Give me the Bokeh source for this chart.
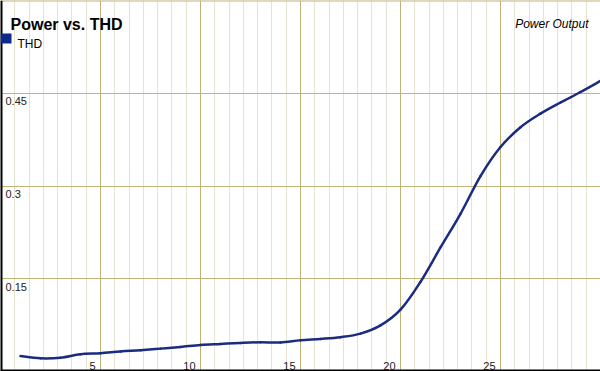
from bokeh.plotting import figure
from bokeh.models import (ColumnDataSource, Range1d, SingleIntervalTicker, FixedTicker,
                          Span, Label, BoxAnnotation)
from bokeh.embed import file_html
from bokeh.resources import INLINE

# ---- data ----
power = list(range(1, 31))
thd = [0.025, 0.0214, 0.0224, 0.0279, 0.0295, 0.0324, 0.0344, 0.037, 0.0397, 0.043,
       0.0446, 0.0462, 0.0473, 0.047, 0.0506, 0.0527, 0.0555, 0.0612, 0.0745, 0.100,
       0.145, 0.2006, 0.255, 0.316, 0.363, 0.395, 0.417, 0.435, 0.452, 0.470]

x_ticks = [5, 10, 15, 20, 25]
x_labels = ["5", "10", "15", "20", "25"]
y_ticks = [0.15, 0.3, 0.45]
y_labels = ["0.15", "0.3", "0.45"]

title = "Power vs. THD"
series_name = "THD"
axis_title = "Power Output"

FONT = "Liberation Sans"
LINE = "#1a2b80"
MAJOR = "#bdb47a"
MINOR = "#e6e3d2"

p = figure(width=600, height=371, output_backend="svg", toolbar_location=None,
           x_range=Range1d(0, 30), y_range=Range1d(0, 0.6), min_border=0,
           outline_line_color=None, background_fill_color="white")
p.xaxis.visible = False
p.yaxis.visible = False

p.xgrid[0].ticker = SingleIntervalTicker(interval=5, num_minor_ticks=7)
p.xgrid[0].grid_line_color = MAJOR
p.xgrid[0].minor_grid_line_color = MINOR
p.ygrid[0].ticker = FixedTicker(ticks=[0.15, 0.3, 0.45, 0.6])
p.ygrid[0].grid_line_color = MAJOR

p.add_layout(Span(location=0.6, dimension="width", line_color=MAJOR, line_width=2))
p.add_layout(Span(location=0, dimension="height", line_color="black", line_width=4))
p.add_layout(Span(location=0, dimension="width", line_color="black", line_width=4))

# smooth curve through the data points (Catmull-Rom as cubic Bezier segments)
n = len(power)
x0, y0, x1, y1, cx0, cy0, cx1, cy1 = [], [], [], [], [], [], [], []
for i in range(n - 1):
    a = max(i - 1, 0)
    d = min(i + 2, n - 1)
    x0.append(power[i]); y0.append(thd[i])
    x1.append(power[i + 1]); y1.append(thd[i + 1])
    cx0.append(power[i] + (power[i + 1] - power[a]) / 6)
    cy0.append(thd[i] + (thd[i + 1] - thd[a]) / 6)
    cx1.append(power[i + 1] - (power[d] - power[i]) / 6)
    cy1.append(thd[i + 1] - (thd[d] - thd[i]) / 6)
bsrc = ColumnDataSource(dict(x0=x0, y0=y0, x1=x1, y1=y1, cx0=cx0, cy0=cy0, cx1=cx1, cy1=cy1))
p.bezier("x0", "y0", "x1", "y1", "cx0", "cy0", "cx1", "cy1", source=bsrc,
         line_color=LINE, line_width=2.5, line_cap="round")

# tick labels inside the plot
xs = ColumnDataSource(dict(x=x_ticks, y=[0] * len(x_ticks), t=x_labels))
p.text("x", "y", text="t", source=xs, x_offset=-5, y_offset=-6,
       text_align="right", text_baseline="alphabetic", text_font_size="11px",
       text_color="#222222", text_font={"value": FONT})
ys = ColumnDataSource(dict(x=[0] * len(y_ticks), y=y_ticks, t=y_labels))
p.text("x", "y", text="t", source=ys, x_offset=5, y_offset=4,
       text_align="left", text_baseline="top", text_font_size="11px",
       text_color="#222222", text_font={"value": FONT})

p.add_layout(Label(x=10, y=347, x_units="screen", y_units="screen", text=title,
                   text_font=FONT, text_font_size="16px", text_font_style="bold",
                   text_baseline="alphabetic", text_color="black"))
p.add_layout(BoxAnnotation(left=0, right=11, top=338, bottom=328, left_units="screen",
                           right_units="screen", top_units="screen", bottom_units="screen",
                           fill_color="#0b2a8a", fill_alpha=1, line_color=None))
p.add_layout(Label(x=17, y=328, x_units="screen", y_units="screen", text=series_name,
                   text_font=FONT, text_font_size="12px", text_baseline="alphabetic",
                   text_color="black"))
p.add_layout(Label(x=588, y=347.5, x_units="screen", y_units="screen", text=axis_title,
                   text_font=FONT, text_font_size="12px", text_font_style="italic",
                   text_align="right", text_baseline="alphabetic", text_color="black"))

open("out.html", "w").write(file_html(p, INLINE))
